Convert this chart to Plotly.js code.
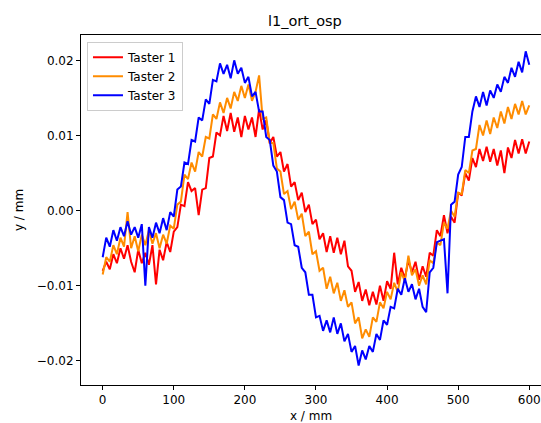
<!DOCTYPE html>
<html>
<head>
<meta charset="utf-8">
<script src="https://cdn.plot.ly/plotly-3.0.1.min.js"></script>
<style>html,body{margin:0;padding:0;background:#fff;}#chart{width:541px;height:423px;}</style>
</head>
<body>
<div id="chart"></div>
<script>
const xPos = [0,5,10,15,20,25,30,35,40,45,50,55,60,65,70,75,80,85,90,95,
  100,105,110,115,120,125,130,135,140,145,150,155,160,165,170,175,180,185,190,195,
  200,205,210,215,220,225,230,235,240,245,250,255,260,265,270,275,280,285,290,295,
  300,305,310,315,320,325,330,335,340,345,350,355,360,365,370,375,380,385,390,395,
  400,405,410,415,420,425,430,435,440,445,450,455,460,465,470,475,480,485,490,495,
  500,505,510,515,520,525,530,535,540,545,550,555,560,565,570,575,580,585,590,595,600];

const taster1 = [-0.0080,-0.0068,-0.0078,-0.0058,-0.0070,-0.0050,-0.0064,-0.0046,-0.0068,-0.0082,
  -0.0052,-0.0070,-0.0056,-0.0072,-0.0046,-0.0098,-0.0052,-0.0066,-0.0042,-0.0055,
  -0.0028,-0.0022,0.0008,0.0006,0.0038,0.0026,0.0030,-0.0006,0.0028,0.0030,
  0.0070,0.0072,0.0104,0.0100,0.0126,0.0106,0.0130,0.0105,0.0124,0.0098,
  0.0126,0.0108,0.0124,0.0098,0.0135,0.0108,0.0120,0.0090,0.0098,0.0072,
  0.0078,0.0052,0.0062,0.0032,0.0038,0.0014,0.0024,-0.0002,0.0008,-0.0018,
  -0.0012,-0.0038,-0.0030,-0.0055,-0.0034,-0.0056,-0.0036,-0.0058,-0.0040,-0.0074,
  -0.0080,-0.0108,-0.0095,-0.0120,-0.0105,-0.0126,-0.0108,-0.0125,-0.0100,-0.0120,
  -0.0094,-0.0104,-0.0056,-0.0098,-0.0076,-0.0090,-0.0066,-0.0082,-0.0068,-0.0092,
  -0.0074,-0.0088,-0.0056,-0.0060,-0.0026,-0.0034,-0.0006,-0.0030,-0.0008,-0.0016,
  0.0024,0.0020,0.0050,0.0040,0.0070,0.0058,0.0082,0.0066,0.0085,0.0065,
  0.0082,0.0060,0.0080,0.0050,0.0084,0.0070,0.0094,0.0076,0.0095,0.0076,0.0092];

const taster2 = [-0.0085,-0.0062,-0.0068,-0.0046,-0.0058,-0.0036,-0.0048,-0.0002,-0.0050,-0.0034,
  -0.0054,-0.0032,-0.0046,-0.0026,-0.0044,-0.0030,-0.0050,-0.0032,-0.0044,-0.0020,
  -0.0024,0.0008,0.0012,0.0048,0.0042,0.0064,0.0052,0.0078,0.0072,0.0098,
  0.0096,0.0128,0.0122,0.0144,0.0130,0.0150,0.0136,0.0158,0.0146,0.0166,
  0.0150,0.0168,0.0146,0.0158,0.0180,0.0122,0.0124,0.0090,0.0090,0.0056,
  0.0052,0.0022,0.0026,0.0002,0.0012,-0.0012,-0.0004,-0.0034,-0.0028,-0.0058,
  -0.0054,-0.0080,-0.0076,-0.0104,-0.0088,-0.0110,-0.0096,-0.0120,-0.0106,-0.0128,
  -0.0122,-0.0150,-0.0142,-0.0170,-0.0158,-0.0168,-0.0142,-0.0148,-0.0122,-0.0130,
  -0.0108,-0.0118,-0.0096,-0.0108,-0.0082,-0.0094,-0.0060,-0.0086,-0.0078,-0.0100,
  -0.0086,-0.0098,-0.0066,-0.0070,-0.0042,-0.0046,-0.0016,-0.0024,0.0000,-0.0008,
  0.0024,0.0022,0.0054,0.0050,0.0080,0.0082,0.0114,0.0100,0.0120,0.0102,
  0.0124,0.0110,0.0132,0.0116,0.0138,0.0122,0.0142,0.0128,0.0146,0.0128,0.0140];

const taster3 = [-0.0062,-0.0036,-0.0048,-0.0026,-0.0040,-0.0022,-0.0034,-0.0014,-0.0032,-0.0022,
  -0.0036,-0.0018,-0.0100,-0.0022,-0.0036,-0.0016,-0.0030,-0.0010,-0.0026,-0.0002,
  -0.0008,0.0028,0.0032,0.0064,0.0062,0.0094,0.0092,0.0124,0.0120,0.0148,
  0.0142,0.0174,0.0172,0.0196,0.0182,0.0194,0.0176,0.0200,0.0182,0.0190,
  0.0170,0.0178,0.0152,0.0158,0.0132,0.0132,0.0098,0.0094,0.0060,0.0052,
  0.0018,0.0014,-0.0016,-0.0018,-0.0046,-0.0048,-0.0076,-0.0082,-0.0112,-0.0112,
  -0.0142,-0.0140,-0.0160,-0.0146,-0.0162,-0.0142,-0.0164,-0.0150,-0.0174,-0.0164,
  -0.0188,-0.0180,-0.0206,-0.0186,-0.0198,-0.0180,-0.0188,-0.0164,-0.0172,-0.0146,
  -0.0152,-0.0128,-0.0130,-0.0104,-0.0112,-0.0090,-0.0108,-0.0098,-0.0118,-0.0104,
  -0.0128,-0.0135,-0.0082,-0.0076,-0.0042,-0.0040,-0.0038,-0.0110,0.0008,0.0012,
  0.0048,0.0058,0.0098,0.0098,0.0132,0.0152,0.0138,0.0158,0.0140,0.0160,
  0.0150,0.0168,0.0158,0.0178,0.0170,0.0190,0.0178,0.0198,0.0184,0.0212,0.0194];

const seriesNames = ['Taster 1','Taster 2','Taster 3'];
const seriesColors = ['#ff0000','#ff8c00','#0000ff'];
const seriesData = [taster1, taster2, taster3];

const xTicks = [0,100,200,300,400,500,600];
const yTicks = [-0.02,-0.01,0.00,0.01,0.02];

const traces = seriesData.map((ys, i) => ({
  x: xPos, y: ys, type: 'scatter', mode: 'lines',
  name: seriesNames[i],
  line: {color: seriesColors[i], width: 2}
}));

const FONT = 'DejaVu Sans, sans-serif';
const layout = {
  width: 541, height: 423,
  margin: {l: 81, r: 0, t: 35, b: 38, pad: 0},
  paper_bgcolor: '#fff', plot_bgcolor: '#fff',
  font: {family: FONT, size: 12, color: '#000'},
  title: {text: 'l1_ort_osp', font: {family: FONT, size: 14.5, color: '#000'},
          xref: 'container', x: 0.5635, xanchor: 'center',
          yref: 'container', y: 0.951, yanchor: 'middle'},
  showlegend: true,
  legend: {x: 0.013, y: 0.981, xanchor: 'left', yanchor: 'top',
           bgcolor: 'rgba(255,255,255,0.8)', bordercolor: '#cccccc', borderwidth: 1,
           font: {family: FONT, size: 12, color: '#000'}, tracegroupgap: 0},
  xaxis: {range: [-30.5, 616.5], tickvals: xTicks, ticktext: xTicks.map(String),
          ticks: 'outside', ticklen: 4, tickwidth: 1, tickcolor: '#000',
          showline: true, linecolor: '#000', linewidth: 1, mirror: true,
          showgrid: false, zeroline: false,
          tickfont: {family: FONT, size: 12, color: '#000'},
          title: {text: 'x / mm', font: {family: FONT, size: 12, color: '#000'}, standoff: 7}},
  yaxis: {range: [-0.0232, 0.02337], tickvals: yTicks, tickformat: '.2f',
          ticks: 'outside', ticklen: 4, tickwidth: 1, tickcolor: '#000',
          showline: true, linecolor: '#000', linewidth: 1,
          showgrid: false, zeroline: false,
          tickfont: {family: FONT, size: 12, color: '#000'},
          title: {text: 'y / mm', font: {family: FONT, size: 12, color: '#000'}, standoff: 10}}
};

Plotly.newPlot('chart', traces, layout, {displayModeBar: false, staticPlot: true});
</script>
</body>
</html>
